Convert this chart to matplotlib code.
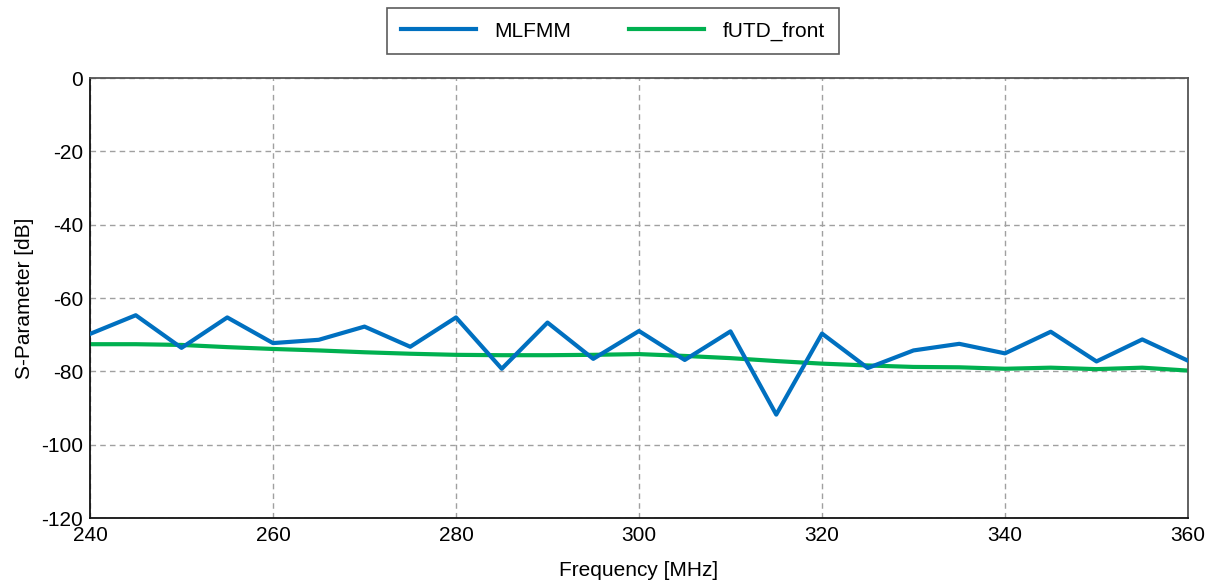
import matplotlib
matplotlib.use("Agg")
import matplotlib.pyplot as plt

freq = [240, 245, 250, 255, 260, 265, 270, 275, 280, 285, 290, 295, 300,
        305, 310, 315, 320, 325, 330, 335, 340, 345, 350, 355, 360]
mlfmm = [-69.8, -64.7, -73.6, -65.3, -72.3, -71.4, -67.8, -73.3, -65.3, -79.3,
         -66.7, -76.6, -69.0, -76.9, -69.1, -91.8, -69.7, -79.1, -74.3, -72.5,
         -75.1, -69.2, -77.3, -71.3, -77.1]
futd = [-72.6, -72.6, -72.8, -73.4, -73.9, -74.3, -74.8, -75.2, -75.5, -75.6,
        -75.6, -75.5, -75.3, -75.8, -76.4, -77.2, -77.9, -78.4, -78.8, -78.9,
        -79.3, -79.0, -79.4, -79.0, -79.8]

xticks = [240, 260, 280, 300, 320, 340, 360]
yticks = [0, -20, -40, -60, -80, -100, -120]

plt.rcParams['font.family'] = ['Liberation Sans', 'DejaVu Sans']
plt.rcParams['axes.unicode_minus'] = False

fig = plt.figure(figsize=(12.12, 5.86), dpi=100)
ax = fig.add_axes([90/1212, 1 - 518/586, (1188-90)/1212, (518-78)/586])

l1, = ax.plot(freq, mlfmm, color='#0070C0', lw=3, label='MLFMM', zorder=3)
l2, = ax.plot(freq, futd, color='#00B050', lw=3, label='fUTD_front', zorder=2)

ax.set_xlim(240, 360)
ax.set_ylim(-120, 0)
ax.set_xticks(xticks)
ax.set_yticks(yticks)
ax.tick_params(length=0, labelsize=15)
ax.tick_params(axis='x', pad=6)
ax.tick_params(axis='y', pad=5)
ax.grid(True, color='#a0a0a0', ls=(0, (4, 3)), lw=1)
for name, s in ax.spines.items():
    s.set_color('#111111' if name in ('left', 'bottom') else '#555555')
    s.set_linewidth(1.3)

ax.set_xlabel('Frequency [MHz]', fontsize=15, labelpad=11)
ax.set_ylabel('S-Parameter [dB]', fontsize=15, labelpad=5)

leg = fig.legend(handles=[l1, l2], loc='upper center', bbox_to_anchor=(613/1212, 1 - 8/586),
                 ncol=2, fontsize=15, frameon=True, fancybox=False, edgecolor='#333333',
                 handlelength=3.6, handletextpad=0.9, columnspacing=2.8, borderpad=0.65,
                 borderaxespad=0)
leg.get_frame().set_linewidth(1.2)

fig.savefig('out.png', dpi=100)
